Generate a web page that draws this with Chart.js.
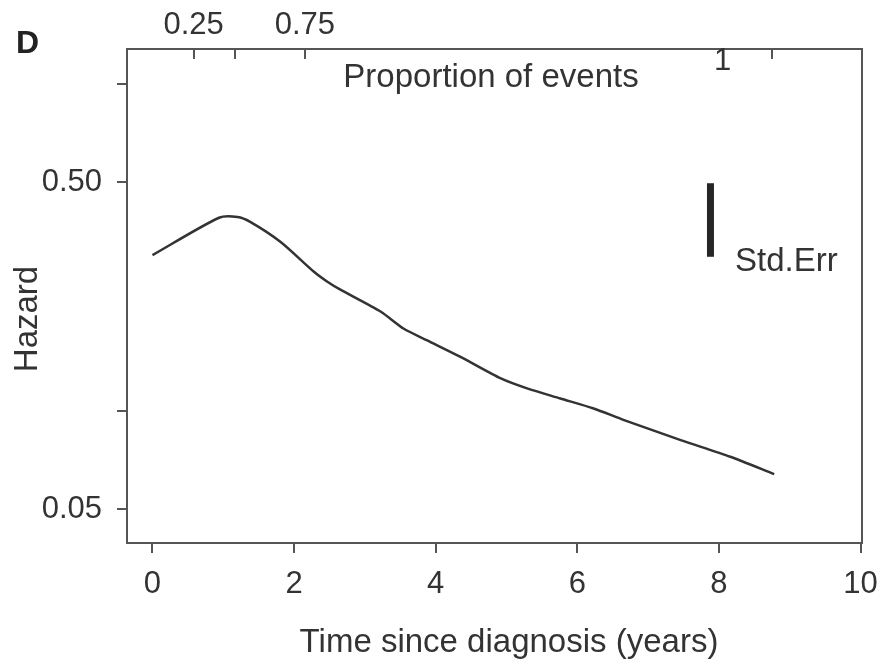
<!DOCTYPE html>
<html>
<head>
<meta charset="utf-8">
<script src="https://cdn.jsdelivr.net/npm/chart.js@4.4.1/dist/chart.umd.min.js"></script>
<style>
  html, body { margin: 0; padding: 0; background: #fff; }
  #wrap { width: 881px; height: 664px; position: relative; }
</style>
</head>
<body>
<div id="wrap"><canvas id="c" width="881" height="664"></canvas></div>
<script>
// Smoothed hazard estimate over time since diagnosis
const timeYears = [0.0, 0.94, 1.2, 1.38, 1.81, 2.28, 2.47, 2.66, 3.22, 3.55, 3.88, 4.35, 4.92, 5.29, 5.76, 6.23, 6.66, 7.46, 8.16, 8.78];
const hazard    = [0.299, 0.389, 0.391, 0.378, 0.328, 0.266, 0.248, 0.234, 0.201, 0.178, 0.164, 0.146, 0.1255, 0.117, 0.109, 0.1016, 0.0936, 0.0813, 0.0723, 0.064];

// Standard-error reference bar (log scale)
const seBarTime = 7.88;
const seBarRange = [0.2955, 0.496];

// Bottom axis
const xTicks = [0, 2, 4, 6, 8, 10];
const xRange = [-0.36, 10.02];

// Hazard axis (log)
const yTicks = [0.05, 0.1, 0.5, 1];
const yTickLabels = ['0.05', '', '0.50', ''];
const yRange = [0.0394, 1.276];

// Top axis: proportion of events reached by each time
const eventProportions = ['0.25', '', '0.75', ''];
const eventTimes = [0.58, 1.172, 2.151, 8.753];
const endLabel = '1';
const endLabelTime = 8.05;

const FONT = '"Liberation Sans", Arial, Helvetica, sans-serif';
const TXT = '#333333';
const AX = '#555555';

const frame = {
  id: 'frame',
  afterDraw(chart) {
    const { ctx, chartArea: a, scales } = chart;
    ctx.save();
    // box around the plotting region
    ctx.strokeStyle = AX;
    ctx.lineWidth = 2;
    ctx.strokeRect(a.left, a.top, a.right - a.left, a.bottom - a.top);
    // inward tick marks on the top axis
    const top = scales.x2;
    top.ticks.forEach(t => {
      const px = Math.round(top.getPixelForValue(t.value));
      ctx.beginPath();
      ctx.moveTo(px, a.top);
      ctx.lineTo(px, a.top + 10);
      ctx.stroke();
    });
    ctx.fillStyle = TXT;
    // top axis title, set inside the box
    ctx.font = '33px ' + FONT;
    ctx.textAlign = 'center';
    ctx.textBaseline = 'alphabetic';
    ctx.fillText('Proportion of events', 491, 87);
    // final proportion label
    ctx.font = '31px ' + FONT;
    ctx.fillText(endLabel, top.getPixelForValue(endLabelTime), 70);
    // Std.Err caption next to the bar
    ctx.font = '33px ' + FONT;
    ctx.textAlign = 'left';
    ctx.fillText('Std.Err', 735, 271);
    // axis titles
    ctx.textAlign = 'center';
    ctx.textBaseline = 'middle';
    ctx.fillText('Time since diagnosis (years)', 509, 643);
    ctx.save();
    ctx.translate(28, 319);
    ctx.rotate(-Math.PI / 2);
    ctx.fillText('Hazard', 0, 0);
    ctx.restore();
    // panel letter
    ctx.font = 'bold 32px ' + FONT;
    ctx.textAlign = 'left';
    ctx.textBaseline = 'alphabetic';
    ctx.fillStyle = '#222';
    ctx.fillText('D', 16, 53);
    ctx.restore();
  }
};

// keep horizontal scales from reserving room for overhanging end labels
const noSidePad = s => { s.paddingLeft = 0; s.paddingRight = 0; };

new Chart(document.getElementById('c'), {
  type: 'line',
  data: {
    datasets: [
      {
        data: timeYears.map((t, i) => ({ x: t, y: hazard[i] })),
        borderColor: '#333333',
        borderWidth: 2.5,
        pointRadius: 0,
        tension: 0.25,
        fill: false
      },
      {
        data: seBarRange.map(v => ({ x: seBarTime, y: v })),
        borderColor: '#262626',
        borderWidth: 7,
        borderCapStyle: 'butt',
        pointRadius: 0,
        fill: false
      }
    ]
  },
  options: {
    responsive: false,
    animation: false,
    events: [],
    layout: { padding: { left: 0, right: 19, top: 0, bottom: 0 } },
    plugins: { legend: { display: false }, tooltip: { enabled: false }, title: { display: false } },
    scales: {
      x: {
        type: 'linear',
        position: 'bottom',
        min: xRange[0],
        max: xRange[1],
        afterBuildTicks: s => { s.ticks = xTicks.map(v => ({ value: v })); },
        afterFit: s => { s.height = 121; noSidePad(s); },
        border: { display: false },
        grid: { drawOnChartArea: false, drawTicks: true, tickLength: 10, color: AX, lineWidth: 2 },
        ticks: { color: TXT, padding: 13, font: { family: FONT, size: 31 }, maxRotation: 0, autoSkip: false,
                 callback: v => String(v) }
      },
      x2: {
        type: 'linear',
        position: 'top',
        min: xRange[0],
        max: xRange[1],
        afterBuildTicks: s => { s.ticks = eventTimes.map(v => ({ value: v })); },
        afterFit: s => { s.height = 49; noSidePad(s); },
        border: { display: false },
        grid: { display: false, drawTicks: false },
        ticks: { color: TXT, padding: 5, font: { family: FONT, size: 31 }, maxRotation: 0, autoSkip: false,
                 callback: (v, i) => eventProportions[i] }
      },
      y: {
        type: 'logarithmic',
        position: 'left',
        min: yRange[0],
        max: yRange[1],
        afterBuildTicks: s => { s.ticks = yTicks.map(v => ({ value: v })); },
        afterFit: s => { s.width = 127; },
        border: { display: false },
        grid: { drawOnChartArea: false, drawTicks: true, tickLength: 10, color: AX, lineWidth: 2 },
        ticks: { color: TXT, padding: 15, font: { family: FONT, size: 31 }, autoSkip: false,
                 callback: (v, i) => yTickLabels[i] }
      }
    }
  },
  plugins: [frame]
});
</script>
</body>
</html>
